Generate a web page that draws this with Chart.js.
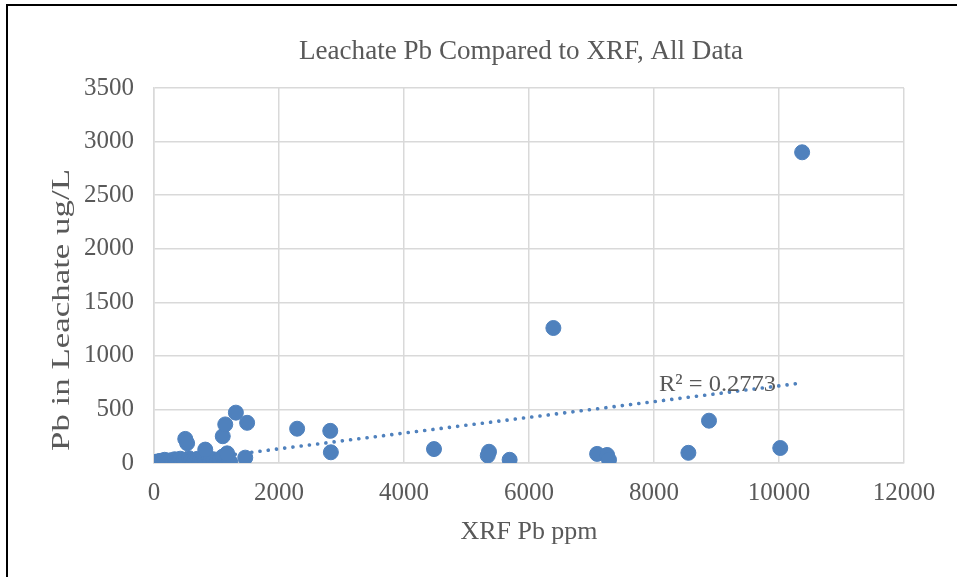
<!DOCTYPE html>
<html>
<head>
<meta charset="utf-8">
<script src="https://cdn.jsdelivr.net/npm/chart.js@4/dist/chart.umd.min.js"></script>
<style>
html,body{margin:0;padding:0;background:#fff;}
#wrap{width:957px;height:577px;position:relative;}
</style>
</head>
<body>
<div id="wrap"><canvas id="c" width="957" height="577"></canvas></div>
<script>
const chartTitle = 'Leachate Pb Compared to XRF, All Data';
const xTitle = 'XRF Pb ppm';
const yTitle = 'Pb in Leachate ug/L';
const r2Label = 'R\u00B2 = 0.2773';

// XRF Pb ppm
const xrfValues = [
  0, 20, 40, 60, 80, 100, 120, 150, 170, 190, 210, 230, 260, 280, 300, 330, 350, 370, 400, 420,
  450, 480, 500, 530, 560, 590, 620, 650, 680, 700, 730, 760, 790, 820, 850, 880, 900, 950, 1000, 1050,
  1100, 1130, 1160, 1200, 1220,
  500, 530, 820, 1100, 1140, 1310, 1490, 1460, 1170,
  2290, 2820, 2830, 4480, 5360, 5340, 5690, 6390, 7090, 7250, 7280, 8550, 8880, 10020, 10370
];
// Pb in leachate ug/L
const leachValues = [
  5, 10, 3, 15, 8, 20, 5, 12, 30, 8, 18, 4, 25, 10, 6, 35, 15, 8, 22, 40,
  10, 28, 5, 15, 45, 20, 8, 30, 12, 40, 20, 10, 55, 30, 15, 45, 20, 35, 10, 25,
  60, 15, 35, 20, 8,
  225, 185, 125, 250, 360, 470, 375, 50, 90,
  320, 300, 100, 130, 105, 70, 30, 1260, 85, 75, 30, 95, 395, 140, 2900
];
// linear trendline endpoints
const trendX = [1300, 10370];
const trendY = [81, 747];

const yTicks = [0, 500, 1000, 1500, 2000, 2500, 3000, 3500];
const xTicks = [0, 2000, 4000, 6000, 8000, 10000, 12000];

const scatterData = xrfValues.map((x, i) => ({x: x, y: leachValues[i]}));
const trendData = trendX.map((x, i) => ({x: x, y: trendY[i]}));

const FONT = "'Liberation Serif', serif";
const TXT = '#595959';
const BLUE = '#4F81BD';

function fitText(ctx, text, x, y, width) {
  const w = ctx.measureText(text).width;
  ctx.save();
  ctx.translate(x, y);
  ctx.scale(width / w, 1);
  ctx.fillText(text, 0, 0);
  ctx.restore();
}

const decor = {
  id: 'decor',
  afterDraw(chart) {
    const ctx = chart.ctx;
    ctx.save();
    ctx.fillStyle = '#000';
    ctx.fillRect(6, 4, 951, 2);
    ctx.fillRect(6, 4, 2, 573);
    ctx.fillStyle = TXT;
    ctx.textAlign = 'center';
    ctx.textBaseline = 'middle';
    ctx.font = "27px " + FONT;
    fitText(ctx, chartTitle, 521, 52, 444);
    ctx.font = "26px " + FONT;
    fitText(ctx, xTitle, 529, 532, 137);
    ctx.save();
    ctx.translate(62, 310);
    ctx.rotate(-Math.PI / 2);
    ctx.font = "26px " + FONT;
    fitText(ctx, yTitle, 0, 0, 282);
    ctx.restore();
    const xs = chart.scales.x, ys = chart.scales.y;
    ctx.textAlign = 'left';
    ctx.font = "24px " + FONT;
    fitText(ctx, r2Label, xs.getPixelForValue(8080), ys.getPixelForValue(735), 117);
    ctx.restore();
  }
};

new Chart(document.getElementById('c'), {
  type: 'scatter',
  data: {
    datasets: [
      {
        data: scatterData,
        backgroundColor: BLUE,
        borderColor: BLUE,
        pointRadius: 7.5,
        pointHoverRadius: 7.5,
        order: 2
      },
      {
        type: 'line',
        data: trendData,
        borderColor: BLUE,
        borderWidth: 3.6,
        borderDash: [0.1, 8.2],
        borderCapStyle: 'round',
        pointRadius: 0,
        fill: false,
        order: 1
      }
    ]
  },
  options: {
    responsive: false,
    animation: false,
    layout: {padding: {top: 88, right: 53, left: 0, bottom: 0}},
    plugins: {legend: {display: false}, tooltip: {enabled: false}, title: {display: false}},
    scales: {
      x: {
        type: 'linear',
        min: 0, max: 12000,
        afterBuildTicks(s) { s.ticks = xTicks.map(v => ({value: v})); },
        afterFit(s) { s.height = 114; },
        grid: {color: '#D9D9D9', lineWidth: 1.5, drawTicks: false},
        border: {color: '#D9D9D9', width: 1.5},
        ticks: {color: TXT, font: {family: FONT, size: 25}, padding: 15, maxRotation: 0,
                callback: v => String(v)}
      },
      y: {
        type: 'linear',
        min: 0, max: 3500,
        afterBuildTicks(s) { s.ticks = yTicks.map(v => ({value: v})); },
        afterFit(s) { s.width = 154; },
        grid: {color: '#D9D9D9', lineWidth: 1.5, drawTicks: false},
        border: {color: '#D9D9D9', width: 1.5},
        ticks: {color: TXT, font: {family: FONT, size: 25}, padding: 20,
                callback: v => String(v)}
      }
    }
  },
  plugins: [decor]
});
</script>
</body>
</html>
